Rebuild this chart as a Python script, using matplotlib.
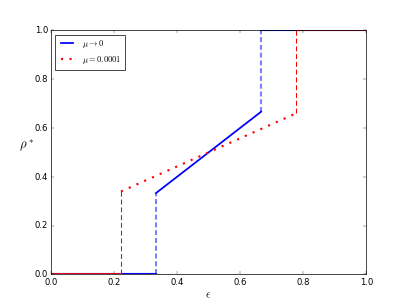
import matplotlib
matplotlib.use("Agg")
import matplotlib.pyplot as plt

plt.style.use("classic")

# mu -> 0 : jumps at 1/3 and 2/3
blue_x0, blue_x1 = 1 / 3, 2 / 3
blue_mid_x = [1 / 3, 2 / 3]
blue_mid_y = [1 / 3, 2 / 3]

# mu = 0.0001 : jumps at ~0.222 and ~0.778
red_x0, red_x1 = 2 / 9, 7 / 9
red_mid_x = [2 / 9, 7 / 9]
red_mid_y = [0.34, 0.66]

fig = plt.figure(figsize=(8, 6), dpi=407 / 8)
ax = fig.add_subplot(111)

# mu -> 0
ax.plot(blue_mid_x, blue_mid_y, "b-", lw=2.5, label=r"$\mu\to 0$")
ax.plot([0, blue_x0], [0, 0], "b-", lw=3)
ax.plot([blue_x1, 1], [1, 1], "b-", lw=3)
ax.plot([blue_x0, blue_x0], [0, blue_mid_y[0]], "b", ls=(0, (7, 4)), lw=3, alpha=0.5)
ax.plot([blue_x1, blue_x1], [blue_mid_y[1], 1], "b", ls=(0, (7, 4)), lw=3, alpha=0.5)

# mu = 0.0001
ax.plot(red_mid_x, red_mid_y, "r", ls=(0, (3, 9)), lw=3, label=r"$\mu=0.0001$")
ax.plot([0, red_x0], [0, 0], "r-", lw=2.5)
ax.plot([red_x1, 1], [1, 1], "r-", lw=2.5)
ax.plot([red_x0, red_x0], [0, red_mid_y[0]], "r", ls=(0, (7, 4)), lw=1.5)
ax.plot([red_x1, red_x1], [red_mid_y[1], 1], "r", ls=(0, (7, 4)), lw=1.5)

ax.set_xlim(0, 1)
ax.set_ylim(0, 1)
ax.set_xlabel(r"$\epsilon$", fontsize=16)
ax.set_ylabel(r"$\rho^*$", rotation=0, fontsize=18, labelpad=12)
ax.legend(loc="upper left", fontsize=12)

fig.savefig("out.png", dpi=407 / 8, facecolor="white")
